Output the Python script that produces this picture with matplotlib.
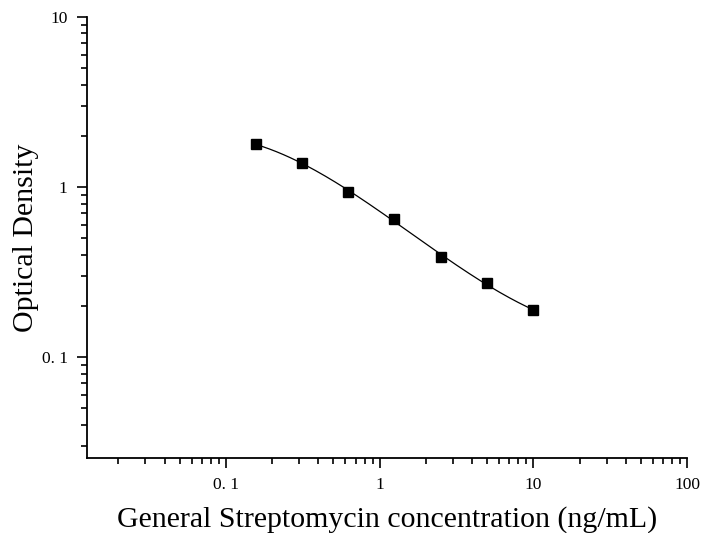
import numpy as np
import matplotlib
matplotlib.use("Agg")
import matplotlib.pyplot as plt
from matplotlib.ticker import LogLocator, FixedLocator, FixedFormatter, NullFormatter

# standard curve data
conc = [0.156, 0.3125, 0.625, 1.25, 2.5, 5, 10]
od = [1.78, 1.39, 0.94, 0.645, 0.39, 0.271, 0.189]

x_ticks = [0.1, 1, 10, 100]
x_labels = ["0. 1", "1", "10", "100"]
y_ticks = [0.1, 1, 10]
y_labels = ["0. 1", "1", "10"]

plt.rcParams["font.family"] = ["Liberation Serif", "DejaVu Serif"]

fig = plt.figure(figsize=(7.03, 5.33), dpi=100)
ax = fig.add_axes([87 / 703, 75 / 533, 600 / 703, 441 / 533])

# smooth fit in log-log space
lx = np.log10(conc)
ly = np.log10(od)
coef = np.polyfit(lx, ly, 3)
xs = np.linspace(lx[0], lx[-1], 200)
ax.plot(10 ** xs, 10 ** np.polyval(coef, xs), color="black", lw=0.9)
ax.plot(conc, od, ls="none", marker="s", ms=7, color="black")

ax.set_xscale("log")
ax.set_yscale("log")
ax.set_xlim(0.0125, 100)
ax.set_ylim(0.0255, 10)

ax.xaxis.set_major_locator(FixedLocator(x_ticks))
ax.xaxis.set_major_formatter(FixedFormatter(x_labels))
ax.yaxis.set_major_locator(FixedLocator(y_ticks))
ax.yaxis.set_major_formatter(FixedFormatter(y_labels))
ax.xaxis.set_minor_locator(LogLocator(base=10, subs=np.arange(2, 10)))
ax.yaxis.set_minor_locator(LogLocator(base=10, subs=np.arange(2, 10)))
ax.xaxis.set_minor_formatter(NullFormatter())
ax.yaxis.set_minor_formatter(NullFormatter())

for s in ["top", "right"]:
    ax.spines[s].set_visible(False)
for s in ["left", "bottom"]:
    ax.spines[s].set_linewidth(1.3)

ax.tick_params(which="major", direction="out", length=7, width=1.2, labelsize=12.5, pad=7)
ax.tick_params(which="minor", direction="out", length=4, width=1.2)

ax.set_xlabel("General Streptomycin concentration (ng/mL)", fontsize=21.5, labelpad=9)
ax.set_ylabel("Optical Density", fontsize=21.5, labelpad=2)

fig.savefig("out.png", dpi=100)
